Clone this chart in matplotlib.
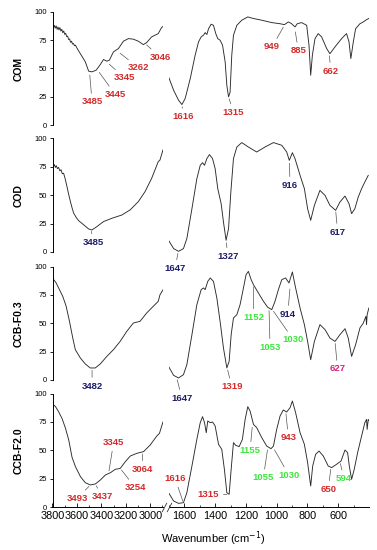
import matplotlib
matplotlib.use("Agg")
import matplotlib.pyplot as plt
from matplotlib.lines import Line2D

plt.rcParams["font.family"] = ["Liberation Sans", "DejaVu Sans"]

# ============================================
# Dados
# ============================================

amostras = ["COM", "COD", "CCB-F0.3", "CCB-F2.0"]

# região 3800-2900 cm-1
com_wn_a = [3800, 3792, 3785, 3778, 3770, 3762, 3755, 3747, 3740, 3732, 3724, 3716, 3708, 3700,
            3692, 3684, 3676, 3668, 3660, 3652, 3644, 3636, 3628, 3620, 3612, 3600, 3572, 3531,
            3504, 3477, 3442, 3409, 3382, 3355, 3334, 3301, 3260, 3219, 3178, 3138, 3097, 3056,
            3029, 2988, 2934, 2907, 2895]
com_t_a = [87.5, 86.0, 88.0, 85.5, 87.5, 84.5, 86.5, 84.0, 86.0, 83.0, 84.5, 81.5, 83.0, 80.0,
           81.0, 78.0, 78.5, 75.5, 76.0, 73.0, 74.0, 71.5, 72.0, 70.0, 70.5, 68.0, 63.0, 55.8,
           47.6, 47.0, 48.5, 53.4, 57.9, 56.4, 57.3, 64.6, 67.5, 74.0, 76.3, 75.8, 74.0, 71.0,
           72.8, 77.8, 80.7, 86.0, 87.0]

cod_wn_a = [3800, 3792, 3784, 3776, 3768, 3760, 3750, 3740, 3730, 3720, 3709, 3695, 3682, 3668,
            3654, 3640, 3627, 3606, 3586, 3545, 3504, 3477, 3436, 3382, 3314, 3232, 3164, 3097,
            3042, 2988, 2934, 2920, 2895]
cod_t_a = [76.7, 75.0, 77.0, 74.5, 76.0, 73.5, 74.5, 71.5, 72.5, 69.0, 69.4, 64.0, 57.9, 51.0,
           44.7, 39.0, 34.3, 30.5, 27.6, 24.0, 20.3, 19.4, 22.4, 26.8, 29.7, 32.6, 37.1, 44.4,
           53.2, 64.9, 79.6, 81.0, 90.0]

f03_wn_a = [3800, 3770, 3743, 3716, 3688, 3661, 3634, 3613, 3572, 3531, 3491, 3450, 3409, 3355,
            3301, 3246, 3192, 3138, 3083, 3029, 2975, 2934, 2920, 2895]
f03_t_a = [89.9, 85.5, 79.6, 73.7, 64.9, 51.7, 37.0, 26.7, 19.4, 14.1, 10.6, 10.6, 14.1, 20.8,
           26.7, 34.0, 42.8, 50.2, 51.7, 59.0, 64.9, 69.3, 75.0, 79.5]

f20_wn_a = [3800, 3776, 3749, 3722, 3694, 3667, 3640, 3612, 3571, 3531, 3490, 3449, 3408, 3367,
            3326, 3286, 3245, 3204, 3163, 3109, 3054, 3000, 2946, 2924, 2895]
f20_t_a = [90.7, 88.6, 83.7, 78.0, 69.5, 59.0, 43.8, 35.5, 26.7, 21.4, 19.4, 20.3, 23.8, 28.2,
           30.2, 33.2, 34.0, 39.9, 44.9, 47.3, 48.8, 54.6, 62.5, 64.9, 75.0]

# região 1700-400 cm-1
com_wn_b = [1703, 1670, 1638, 1616, 1595, 1562, 1530, 1508, 1491, 1476, 1465, 1454, 1443, 1426,
            1411, 1396, 1383, 1368, 1352, 1335, 1324, 1313, 1303, 1292, 1281, 1259, 1227, 1188,
            1151, 1097, 1032, 978, 950, 924, 903, 881, 866, 838, 805, 790, 779, 768, 751, 730,
            708, 675, 654, 621, 578, 546, 530, 518, 502, 487, 459, 437, 416, 401]
com_t_b = [42.6, 30.8, 22.0, 18.2, 23.5, 41.0, 61.7, 73.4, 77.8, 79.3, 81.6, 79.9, 85.0, 89.0,
           88.0, 80.7, 76.3, 74.9, 70.5, 55.8, 35.0, 25.0, 29.0, 61.7, 79.3, 88.0, 92.5, 95.4,
           94.0, 92.5, 90.4, 89.4, 88.6, 91.0, 89.4, 86.6, 89.4, 90.4, 88.0, 70.5, 44.0, 61.7,
           76.3, 80.7, 77.8, 67.5, 63.0, 69.0, 76.3, 80.7, 73.4, 58.7, 73.4, 85.0, 89.4, 91.0,
           93.0, 94.0]

cod_wn_b = [1703, 1670, 1638, 1606, 1584, 1551, 1519, 1497, 1482, 1469, 1454, 1437, 1417, 1400,
            1383, 1361, 1346, 1329, 1313, 1298, 1281, 1259, 1227, 1184, 1130, 1076, 1021, 967,
            935, 918, 898, 881, 848, 820, 799, 779, 755, 719, 686, 654, 617, 589, 556, 530, 513,
            492, 470, 448, 427, 405]
cod_t_b = [10.3, 3.0, 0.6, 3.0, 11.8, 38.1, 64.6, 76.4, 78.7, 76.4, 82.3, 85.8, 82.3, 73.4,
           55.8, 42.6, 26.4, 10.3, 20.6, 52.9, 82.3, 92.5, 96.4, 92.5, 88.1, 92.5, 96.4, 94.0,
           88.1, 80.7, 87.5, 82.3, 67.5, 55.8, 38.1, 27.9, 41.1, 54.3, 49.9, 41.1, 36.7, 44.0,
           49.3, 42.6, 33.8, 38.1, 48.4, 55.8, 61.7, 67.5]

f03_wn_b = [1703, 1670, 1638, 1606, 1584, 1551, 1519, 1491, 1476, 1465, 1448, 1432, 1411, 1389,
            1368, 1346, 1324, 1309, 1296, 1281, 1259, 1238, 1216, 1199, 1184, 1166, 1151, 1119,
            1086, 1058, 1032, 1011, 989, 967, 942, 920, 898, 877, 848, 820, 799, 779, 755, 719,
            686, 654, 621, 589, 556, 535, 513, 487, 459, 437, 420, 416, 412, 401]
f03_t_b = [12.0, 4.1, 1.8, 4.7, 13.5, 39.9, 66.4, 79.6, 81.1, 79.6, 86.9, 89.9, 86.9, 72.2,
           51.7, 28.2, 10.6, 16.5, 39.9, 54.6, 57.6, 66.4, 81.1, 92.8, 95.7, 88.4, 84.0, 76.7,
           69.3, 64.0, 62.0, 69.3, 79.6, 88.4, 89.9, 85.5, 95.2, 81.1, 63.4, 48.8, 34.0, 17.9,
           34.0, 48.8, 44.4, 37.0, 34.0, 39.9, 45.2, 37.0, 20.8, 31.1, 45.8, 50.2, 56.1, 48.8,
           57.6, 63.4]

f20_wn_b = [1703, 1670, 1638, 1606, 1584, 1551, 1519, 1497, 1482, 1469, 1458, 1448, 1432, 1417,
            1400, 1378, 1357, 1340, 1324, 1309, 1296, 1281, 1266, 1244, 1223, 1205, 1188, 1173,
            1151, 1130, 1097, 1065, 1037, 1021, 1000, 978, 957, 935, 913, 898, 877, 848, 820,
            799, 779, 766, 747, 725, 697, 665, 643, 611, 582, 556, 539, 528, 513, 496, 474, 448,
            427, 416, 412, 405, 399]
f20_t_b = [12.6, 5.3, 3.2, 3.8, 12.6, 36.1, 59.6, 74.3, 79.6, 74.3, 65.5, 75.8, 74.3, 74.9,
           71.4, 55.2, 50.8, 33.2, 12.6, 11.2, 33.2, 56.7, 54.3, 53.2, 59.6, 77.2, 88.4, 84.6,
           72.8, 69.9, 61.1, 53.7, 51.4, 53.7, 68.4, 80.2, 85.5, 83.7, 87.5, 93.4, 83.1, 65.5,
           55.2, 39.1, 18.5, 36.1, 46.4, 49.3, 44.9, 36.1, 34.7, 37.6, 40.5, 50.2, 47.9, 36.1,
           24.4, 33.2, 47.9, 62.6, 74.3, 77.2, 68.4, 77.2, 75.8]

wn_a = [com_wn_a, cod_wn_a, f03_wn_a, f20_wn_a]
t_a = [com_t_a, cod_t_a, f03_t_a, f20_t_a]
wn_b = [com_wn_b, cod_wn_b, f03_wn_b, f20_wn_b]
t_b = [com_t_b, cod_t_b, f03_t_b, f20_t_b]

VERMELHO = "#d42a2a"
AZUL = "#1c1c6a"
VERDE = "#3ee63e"
ROSA = "#d4237f"

# rótulos dos picos: (texto, lado, wn do pico, T do pico, wn do texto, T do texto, cor)
picos = [
    [("3485", "a", 3496, 46, 3476, 20.5, VERMELHO),
     ("3445", "a", 3427, 48, 3286, 27, VERMELHO),
     ("3345", "a", 3348, 55, 3210, 41.7, VERMELHO),
     ("3262", "a", 3260, 64.6, 3095, 50.5, VERMELHO),
     ("3046", "a", 3042, 72, 2918, 60, VERMELHO),
     ("1616", "b", 1616, 18, 1606, 7.3, VERMELHO),
     ("1315", "b", 1313, 25, 1281, 11.2, VERMELHO),
     ("949", "b", 950, 88, 1030, 69, VERMELHO),
     ("885", "b", 881, 84, 859, 65.5, VERMELHO),
     ("662", "b", 658, 63, 649, 47.6, VERMELHO)],
    [("3485", "a", 3485, 20, 3463, 8.5, AZUL),
     ("1647", "b", 1640, 0.5, 1660, -14.4, AZUL),
     ("1327", "b", 1329, 10, 1317, -3.8, AZUL),
     ("916", "b", 918, 80, 913, 58.8, AZUL),
     ("617", "b", 617, 37, 604, 17.6, AZUL)],
    [("3482", "a", 3476, 10.5, 3476, -5.3, AZUL),
     ("1647", "b", 1650, 2, 1616, -16, AZUL),
     ("1319", "b", 1322, 10.6, 1292, -5.9, VERMELHO),
     ("1152", "b", 1151, 84, 1151, 55.2, VERDE),
     ("914", "b", 913, 82, 928, 58.1, AZUL),
     ("1053", "b", 1050, 63, 1043, 28.8, VERDE),
     ("1030", "b", 1028, 62, 892, 35.5, VERDE),
     ("627", "b", 621, 34, 604, 9.7, ROSA)],
    [("3493", "a", 3490, 19.4, 3598, 7.6, VERMELHO),
     ("3437", "a", 3449, 20.3, 3394, 9.1, VERMELHO),
     ("3345", "a", 3340, 30, 3300, 56.7, VERMELHO),
     ("3254", "a", 3245, 34, 3122, 17, VERMELHO),
     ("3064", "a", 3064, 48.5, 3060, 33.2, VERMELHO),
     ("1616", "b", 1606, 3.5, 1660, 25, VERMELHO),
     ("1315", "b", 1309, 11, 1443, 11.2, VERMELHO),
     ("1155", "b", 1158, 72, 1173, 50, VERDE),
     ("943", "b", 941, 84, 924, 61, VERMELHO),
     ("1055", "b", 1058, 52, 1087, 25.8, VERDE),
     ("1030", "b", 1021, 52, 920, 27.9, VERDE),
     ("650", "b", 647, 35, 665, 15.6, VERMELHO),
     ("594", "b", 589, 40, 563, 25, VERDE)],
]

# ============================================
# Gráfico
# ============================================

W, H = 377, 550
fig = plt.figure(figsize=(W / 100, H / 100), dpi=100)

# posição (px, a partir do topo) do 0 de cada painel
base_px = [125.2, 252, 380, 507]
alt_px = 113.5

for i, nome in enumerate(amostras):
    b = (H - base_px[i]) / H
    h = alt_px / H
    ax_a = fig.add_axes([52.5 / W, b, 110.5 / W, h])
    ax_b = fig.add_axes([169 / W, b, 200 / W, h])
    ultimo = i == len(amostras) - 1

    for ax in (ax_a, ax_b):
        ax.set_facecolor("none")
        ax.set_ylim(0, 100)
        for s in ("top", "right"):
            ax.spines[s].set_visible(False)
        ax.spines["bottom"].set_visible(ultimo)
        ax.spines["left"].set_linewidth(0.7)
        ax.spines["bottom"].set_linewidth(0.7)

    ax_a.set_xlim(3800, 2895)
    ax_b.set_xlim(1700, 400)
    ax_b.spines["left"].set_visible(False)
    ax_b.tick_params(axis="y", left=False, labelleft=False)

    ax_a.plot(wn_a[i], t_a[i], color="#2a2a2a", lw=0.65)
    ax_b.plot(wn_b[i], t_b[i], color="#2a2a2a", lw=0.65)

    ax_a.set_yticks([0, 25, 50, 75, 100])
    ax_a.tick_params(axis="y", direction="out", length=2.5, width=0.6, labelsize=5.5, pad=1.5)

    if ultimo:
        ax_a.set_xticks([3800, 3600, 3400, 3200, 3000])
        ax_a.set_xticks([3700, 3500, 3300, 3100, 2900], minor=True)
        ax_b.set_xticks([1600, 1400, 1200, 1000, 800, 600])
        ax_b.set_xticks([1700, 1500, 1300, 1100, 900, 700, 500], minor=True)
        for ax in (ax_a, ax_b):
            ax.tick_params(axis="x", which="major", direction="in", length=3, width=0.6,
                           labelsize=7.8, pad=3.2)
            ax.tick_params(axis="x", which="minor", direction="in", length=1.8, width=0.5)
    else:
        for ax in (ax_a, ax_b):
            ax.set_xticks([])

    ax_a.set_ylabel(nome, fontsize=7.5, fontweight="bold", labelpad=8)

    for txt, lado, xp, yp, xt, yt, cor in picos[i]:
        ax = ax_a if lado == "a" else ax_b
        ax.annotate(txt, xy=(xp, yp), xytext=(xt, yt), ha="center", va="center",
                    fontsize=6.8, fontweight="bold", color=cor, annotation_clip=False,
                    arrowprops=dict(arrowstyle="-", color="#555555", lw=0.5,
                                    shrinkA=1, shrinkB=1.5))

    if ultimo:
        ax_b.set_xlabel("Wavenumber (cm$^{-1}$)", fontsize=8, labelpad=6, x=0.22)

# marcas de quebra do eixo
for x0 in (162.3, 167.3):
    fig.add_artist(Line2D([x0 / W, (x0 + 4.4) / W], [(H - 511.7) / H, (H - 503.3) / H],
                          color="#333333", lw=0.6))

fig.savefig("out.png", dpi=100)
